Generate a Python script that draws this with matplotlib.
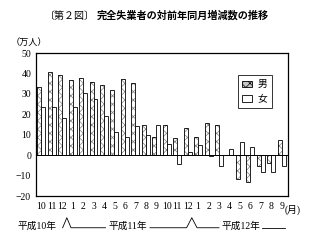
import matplotlib
matplotlib.use("Agg")
import matplotlib.pyplot as plt
import matplotlib.transforms as mtransforms
from matplotlib.patches import Patch
import numpy as np

plt.rcParams['font.family'] = ['Liberation Serif', 'Noto Sans CJK JP']
plt.rcParams['hatch.linewidth'] = 0.5

months = ["10", "11", "12", "1", "2", "3", "4", "5", "6", "7", "8", "9",
          "10", "11", "12", "1", "2", "3", "4", "5", "6", "7", "8", "9"]
male = [33.3, 40.7, 39.2, 36.9, 37.7, 36.0, 34.3, 31.9, 37.4, 35.5, 14.8, 8.7,
        14.7, 8.5, 13.1, 8.7, 15.7, 14.7, 0.0, -11.9, -13.1, -5.2, -4.0, 7.2]
female = [23.6, 23.6, 18.0, 23.4, 30.2, 27.3, 19.2, 11.2, 8.7, 14.3, 9.7, 14.6,
          5.3, -4.4, 1.4, 4.9, -0.6, -5.4, 3.0, 6.2, 3.8, -8.2, -8.2, -5.5]
yticks = [-20, -10, 0, 10, 20, 30, 40, 50]
era_labels = ["平成10年", "平成11年", "平成12年"]

W, H = 318, 245
fig = plt.figure(figsize=(W / 100, H / 100), dpi=100)
ax = fig.add_axes([36 / W, 1 - 196 / H, 252 / W, 143 / H])

x = np.arange(len(months))
bw = 0.38
# male: light stipple fill, then black outline
ax.bar(x - bw / 2, male, bw, facecolor='white', edgecolor='#808080',
       hatch='xxxx', linewidth=0)
ax.bar(x - bw / 2, male, bw, facecolor='none', edgecolor='black', linewidth=0.6)
ax.bar(x + bw / 2, female, bw, facecolor='white', edgecolor='black',
       linewidth=0.6)
ax.axhline(0, color='black', linewidth=0.7)

ax.set_xlim(-0.5, 23.6)
ax.set_ylim(-20, 50)
ax.set_yticks(yticks)
ax.set_xticks(x)
ax.set_xticklabels(months)
ax.tick_params(axis='both', length=0, labelsize=7)
ax.tick_params(axis='x', pad=4, labelsize=7)
for s in ax.spines.values():
    s.set_linewidth(0.9)

handles = [Patch(facecolor='#c8c8c8', edgecolor='black', hatch='xxxx', linewidth=0.6),
           Patch(facecolor='white', edgecolor='black', linewidth=0.6)]
leg = ax.legend(handles, ['男', '女'], loc='upper right',
                bbox_to_anchor=(0.937, 0.846),
                frameon=True, fancybox=False, edgecolor='black',
                handlelength=1.0, handleheight=0.7, handletextpad=0.6,
                borderpad=0.45, labelspacing=0.45, borderaxespad=0,
                prop={'family': ['Noto Sans CJK JP'], 'size': 7})
leg.get_frame().set_linewidth(0.7)

tr = mtransforms.blended_transform_factory(ax.transData, ax.transAxes)
ax.text(23.3, -0.1, "(月)", transform=tr, ha='left', va='center', fontsize=7,
        clip_on=False)

# era annotation
yb, yp, yt = -0.222, -0.152, -0.214
kw = dict(color='black', linewidth=0.6, transform=tr, clip_on=False)
ax.plot([2.05, 2.45, 2.85, 6.15], [yb, yp, yb, yb], **kw)
ax.plot([10.4, 13.9, 14.4, 14.9, 17.0], [yb, yb, yp, yb, yb], **kw)
ax.plot([21.1, 23.3], [yb, yb], **kw)
for xp, lab in zip([-0.4, 8.25, 19.1], era_labels):
    ax.text(xp, yt, lab, transform=tr, ha='center', va='center', fontsize=7,
            clip_on=False)

fig.text(45 / W, 1 - 16 / H, "〔第２図〕", ha='left', va='center', fontsize=7.2,
         family=['Noto Sans CJK JP'])
fig.text(97 / W, 1 - 16 / H, "完全失業者の対前年同月増減数の推移", ha='left',
         va='center', fontsize=7.3, fontweight='bold', family=['Noto Sans CJK JP'])
fig.text(11 / W, 1 - 42 / H, "（万人）", ha='left', va='center', fontsize=6.6,
         family=['Noto Sans CJK JP'])

fig.savefig("out.png", dpi=100, facecolor='white')
